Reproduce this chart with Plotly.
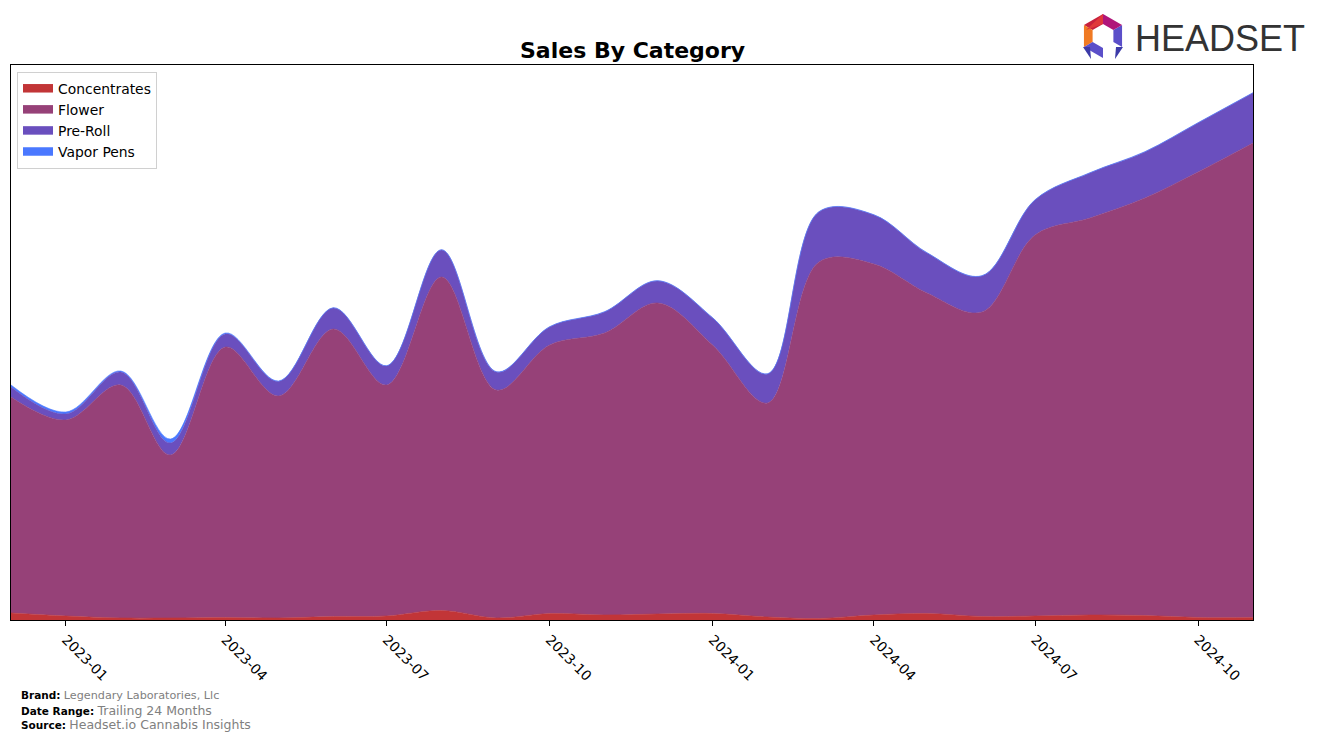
import plotly.graph_objects as go
import pandas as pd
import math

months = pd.date_range("2022-12-01", "2024-11-01", freq="MS").strftime("%Y-%m-%d").tolist()

# Monthly sales (USD)
concentrates = [7000, 4000, 2000, 2000, 2500, 2000, 3500, 4000, 9500, 2000, 6500, 5000,
                6000, 6500, 3000, 1500, 5000, 6500, 3500, 4000, 5000, 4500, 2500, 2500]
flower = [216000, 196000, 233000, 163000, 270500, 222000, 287500, 231000, 333500, 228000, 268500, 282000,
          311000, 268500, 214000, 356500, 351000, 320500, 304500, 381000, 397000, 417500, 445500, 474500]
pre_roll = [10000, 6000, 13000, 12000, 13000, 14500, 21000, 19000, 27000, 18000, 18000, 21000,
            22000, 27000, 29000, 50000, 49000, 40000, 36000, 35000, 45000, 46000, 49000, 50000]
vapor_pens = [2000, 2000, 1000, 4000, 1000, 500, 300, 300, 300, 300, 300, 300,
              300, 300, 300, 300, 300, 300, 300, 300, 300, 300, 300, 300]

series = [
    ("Concentrates", concentrates, "#c23537"),
    ("Flower", flower, "#964178"),
    ("Pre-Roll", pre_roll, "#6a4fbe"),
    ("Vapor Pens", vapor_pens, "#4a78ff"),
]

W, H = 1317, 741
L, R, T, B = 11, 1253, 65, 620

fig = go.Figure()
for name, vals, col in series:
    fig.add_trace(go.Scatter(
        x=months, y=vals, name=name, mode="lines",
        stackgroup="one", fillcolor=col,
        line=dict(color=col, width=0.6, shape="spline", smoothing=1.0),
        hoverinfo="x+y+name",
    ))

def px(x):
    return (x - L) / (R - L)

def py(y):
    return (B - y) / (B - T)

# Logo icon (decoration)
cx, cy, r_out, r_in = 1103, 36, 22, 12
angs = [90 + 60 * k for k in range(7)]
seg_cols = ["#c8203c", "#f07a23", "#5b4fc9", None, "#5b4fc9", "#b0157a"]
shapes = []
for k in range(6):
    col = seg_cols[k]
    if col is None:
        continue
    a0, a1 = math.radians(angs[k]), math.radians(angs[k + 1])
    pts = [(cx + r_out * math.cos(a0), cy - r_out * math.sin(a0)),
           (cx + r_out * math.cos(a1), cy - r_out * math.sin(a1)),
           (cx + r_in * math.cos(a1), cy - r_in * math.sin(a1)),
           (cx + r_in * math.cos(a0), cy - r_in * math.sin(a0))]
    path = "M " + " L ".join(f"{px(a):.5f},{py(b):.5f}" for a, b in pts) + " Z"
    shapes.append(dict(type="path", xref="paper", yref="paper", path=path,
                       fillcolor=col, line=dict(width=0), layer="above"))
for (xa, ya, xb, yb, xc, yc, col) in [
    (1103, 14, 1103, 24, 1086, 30, "#e0393a"),
    (1083, 47, 1090, 47, 1091, 59, "#3c3aa8"),
    (1123, 47, 1116, 47, 1115, 59, "#3c3aa8"),
]:
    path = f"M {px(xa):.5f},{py(ya):.5f} L {px(xb):.5f},{py(yb):.5f} L {px(xc):.5f},{py(yc):.5f} Z"
    shapes.append(dict(type="path", xref="paper", yref="paper", path=path,
                       fillcolor=col, line=dict(width=0), layer="above"))

annotations = [
    dict(text="<b>Sales By Category</b>", x=0.5, y=py(50), xref="paper", yref="paper",
         showarrow=False, font=dict(family="DejaVu Sans", size=22, color="black"),
         xanchor="center", yanchor="middle"),
    dict(text="HEADSET", x=px(1133), y=py(38), xref="paper", yref="paper", showarrow=False,
         font=dict(family="Liberation Sans", size=36, color="#333333"),
         xanchor="left", yanchor="middle"),
    dict(text="<b>Brand:</b> <span style='color:#808080;font-size:11.2px'>Legendary Laboratories, Llc</span>",
         x=px(19), y=py(695), xref="paper", yref="paper", showarrow=False,
         font=dict(family="DejaVu Sans", size=10.5, color="black"), xanchor="left", yanchor="middle"),
    dict(text="<b>Date Range:</b> <span style='color:#808080;font-size:12.5px'>Trailing 24 Months</span>",
         x=px(19), y=py(710), xref="paper", yref="paper", showarrow=False,
         font=dict(family="DejaVu Sans", size=10.5, color="black"), xanchor="left", yanchor="middle"),
    dict(text="<b>Source:</b> <span style='color:#808080;font-size:12.5px'>Headset.io Cannabis Insights</span>",
         x=px(19), y=py(724), xref="paper", yref="paper", showarrow=False,
         font=dict(family="DejaVu Sans", size=10.5, color="black"), xanchor="left", yanchor="middle"),
]

fig.update_layout(
    width=W, height=H,
    margin=dict(l=L, r=W - R, t=T, b=H - B, pad=0),
    paper_bgcolor="white", plot_bgcolor="white",
    showlegend=True,
    legend=dict(x=px(17), y=py(72), xanchor="left", yanchor="top", traceorder="normal",
                bgcolor="rgba(255,255,255,0.8)", bordercolor="#d0d0d0", borderwidth=1,
                font=dict(family="DejaVu Sans", size=13.9, color="black"),
                itemsizing="constant", tracegroupgap=0),
    xaxis=dict(range=[months[0], months[-1]], type="date", tickformat="%Y-%m",
               tick0="2023-01-01", dtick="M3", tickangle=45,
               ticks="outside", ticklen=5, tickcolor="black", tickwidth=1,
               showline=True, linecolor="black", linewidth=1, mirror=True,
               showgrid=False, zeroline=False,
               tickfont=dict(family="DejaVu Sans", size=13.9, color="black")),
    yaxis=dict(range=[0, 555000], showticklabels=False, ticks="",
               showline=True, linecolor="black", linewidth=1, mirror=True,
               showgrid=False, zeroline=False),
    shapes=shapes,
    annotations=annotations,
    font=dict(family="DejaVu Sans"),
)

fig.write_html("out.html")
